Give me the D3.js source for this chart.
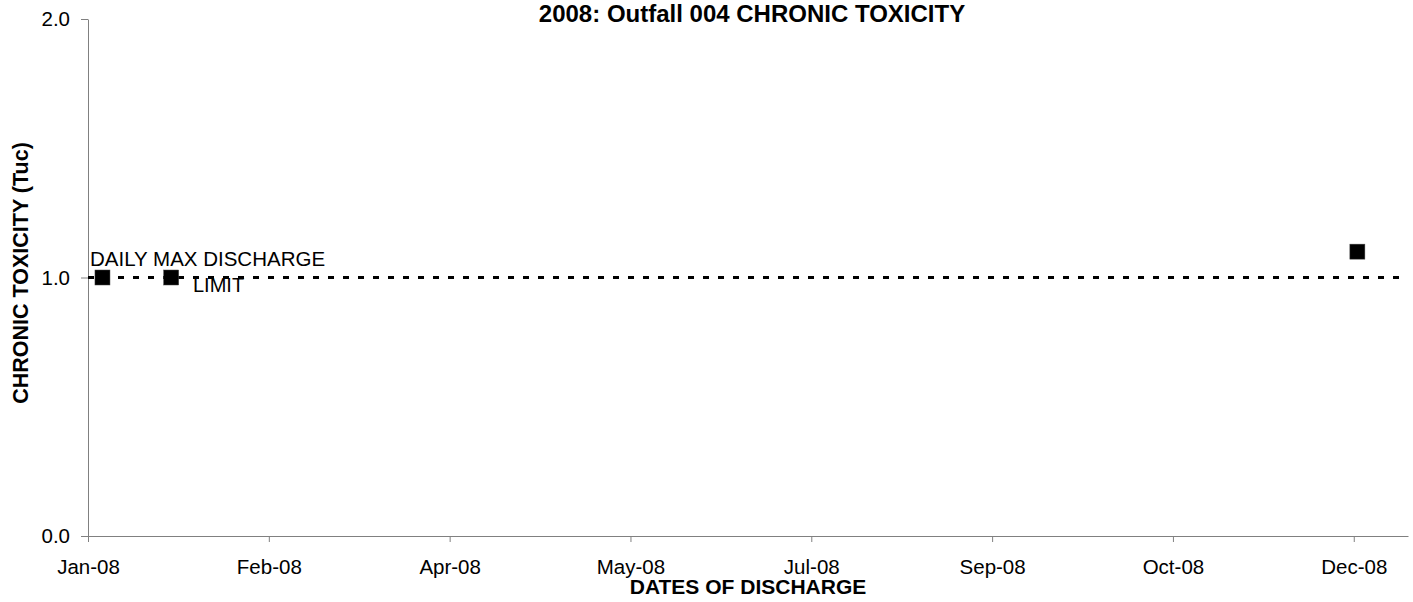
<!DOCTYPE html>
<html>
<head>
<meta charset="utf-8">
<script src="https://cdn.jsdelivr.net/npm/d3@7"></script>
<style>
  body { margin: 0; background: #fff; }
  text { font-family: Arial, "Liberation Sans", sans-serif; }
</style>
</head>
<body>
<div id="chart"></div>
<script>
// sample dates and toxicity results (Tuc)
var sampleDates = ['2008-01-05', '2008-01-24', '2008-12-17'];
var toxValues = [1.0, 1.0, 1.1];
var limitValue = 1.0;
var yTicks = [0, 1, 2];
var xTickStepDays = 50;

var width = 1413,
    height = 602,
    margin = { top: 19, right: 5, bottom: 66, left: 88 };

var parse = d3.timeParse('%Y-%m-%d');
var points = sampleDates.map((d, i) => ({ date: parse(d), value: toxValues[i] }));

var svg = d3.select('#chart')
    .append('svg')
    .attr('width', width)
    .attr('height', height);

var x = d3.scaleTime()
    .domain([new Date(2008, 0, 1), new Date(2008, 11, 31)])
    .range([margin.left, width - margin.right]);
var y = d3.scaleLinear()
    .domain([0, 2])
    .range([height - margin.bottom, margin.top]);

// excel-like ticks every 50 days from Jan 1
var xTicks = d3.range(0, 365, xTickStepDays).map(d => d3.timeDay.offset(new Date(2008, 0, 1), d));

var xAxis = d3.axisBottom(x)
    .tickValues(xTicks)
    .tickFormat(d3.timeFormat('%b-%y'))
    .tickSizeInner(6)
    .tickSizeOuter(0)
    .tickPadding(17);
var yAxis = d3.axisLeft(y)
    .tickValues(yTicks)
    .tickFormat(d3.format('.1f'))
    .tickSizeInner(7)
    .tickSizeOuter(0)
    .tickPadding(11);

var gx = svg.append('g')
    .attr('transform', `translate(0,${y(0)})`)
    .call(xAxis);
var gy = svg.append('g')
    .attr('transform', `translate(${margin.left},0)`)
    .call(yAxis);

[gx, gy].forEach(g => {
    g.select('.domain').attr('stroke', '#808080').attr('stroke-width', 1);
    g.selectAll('.tick line').attr('stroke', '#808080');
    g.selectAll('.tick text')
        .attr('fill', '#000')
        .attr('font-size', 20.5)
        .attr('font-family', 'Arial, "Liberation Sans", sans-serif');
});

// limit line
svg.append('line')
    .attr('x1', x.range()[0])
    .attr('x2', x.range()[1])
    .attr('y1', y(limitValue))
    .attr('y2', y(limitValue))
    .attr('stroke', '#000')
    .attr('stroke-width', 3)
    .attr('stroke-dasharray', '6,9');

// markers
var size = 15;
svg.selectAll('.pt')
    .data(points)
    .enter()
    .append('rect')
    .attr('class', 'pt')
    .attr('x', d => x(d.date) - size / 2)
    .attr('y', d => y(d.value) - size / 2)
    .attr('width', size)
    .attr('height', size)
    .attr('fill', '#000')
    .attr('stroke', '#444')
    .attr('stroke-width', 0.5);

// limit annotation
svg.append('text')
    .attr('x', 90)
    .attr('y', y(limitValue) - 12)
    .attr('font-size', 20.5)
    .text('DAILY MAX DISCHARGE');
svg.append('text')
    .attr('x', 193)
    .attr('y', y(limitValue) + 14)
    .attr('font-size', 20)
    .text('LIMIT');

// titles
svg.append('text')
    .attr('x', 752)
    .attr('y', 22)
    .attr('text-anchor', 'middle')
    .attr('font-size', 24)
    .attr('font-weight', 'bold')
    .text('2008: Outfall 004 CHRONIC TOXICITY');

svg.append('text')
    .attr('x', 748)
    .attr('y', 594)
    .attr('text-anchor', 'middle')
    .attr('font-size', 21)
    .attr('font-weight', 'bold')
    .text('DATES OF DISCHARGE');

svg.append('text')
    .attr('transform', `translate(28,273) rotate(-90)`)
    .attr('text-anchor', 'middle')
    .attr('font-size', 21.5)
    .attr('font-weight', 'bold')
    .text('CHRONIC TOXICITY (Tuc)');
</script>
</body>
</html>
